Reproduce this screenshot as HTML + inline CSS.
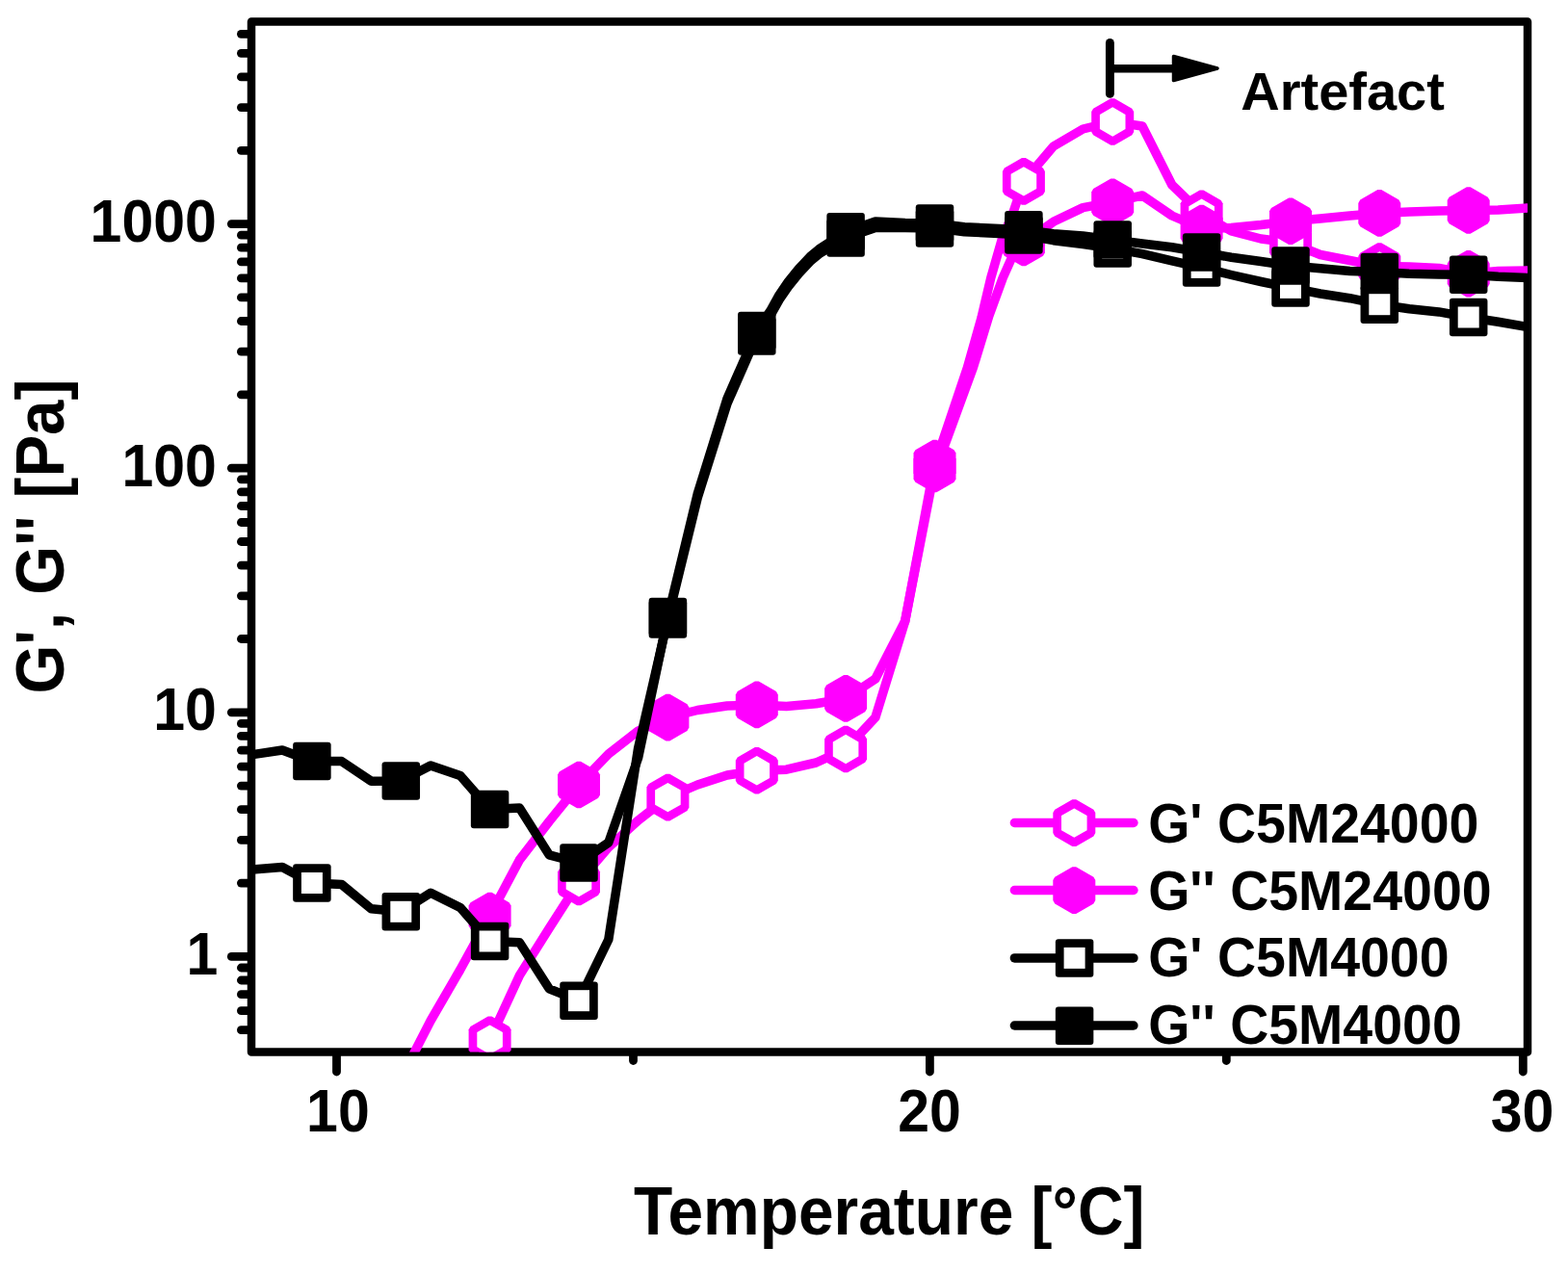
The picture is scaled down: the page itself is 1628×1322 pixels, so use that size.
<!DOCTYPE html>
<html><head><meta charset="utf-8"><title>G', G'' vs Temperature</title>
<style>html,body{margin:0;padding:0;background:#fff;overflow:hidden;}svg{display:block;}</style>
</head><body>
<svg width="1628" height="1322" viewBox="0 0 1628 1322">
<defs>
<clipPath id="pc"><rect x="261" y="22.5" width="1325" height="1070"/></clipPath>
<g id="hf"><polygon points="-1.91,-24.30 1.91,-24.30 20.09,-13.81 22.00,-10.49 22.00,10.49 20.09,13.81 1.91,24.30 -1.91,24.30 -20.09,13.81 -22.00,10.49 -22.00,-10.49 -20.09,-13.81" fill="#ff00ff"/></g>
<g id="ho"><polygon points="-1.91,-24.30 1.91,-24.30 20.09,-13.81 22.00,-10.49 22.00,10.49 20.09,13.81 1.91,24.30 -1.91,24.30 -20.09,13.81 -22.00,10.49 -22.00,-10.49 -20.09,-13.81" fill="#ff00ff"/><polygon points="0,-15.2 13.3,-7.6 13.3,7.6 0,15.2 -13.3,7.6 -13.3,-7.6" fill="#fff"/></g>
<g id="sf"><rect x="-19.75" y="-19.75" width="39.5" height="39.5" rx="3" fill="#000"/></g>
<g id="so"><rect x="-19.75" y="-19.75" width="39.5" height="39.5" rx="3" fill="#000"/><rect x="-11" y="-11" width="22" height="22" fill="#fff"/></g>
</defs>
<rect width="1628" height="1322" fill="#fff"/>
<g stroke="#000" stroke-width="8.8" stroke-linecap="round">
<line x1="250.4" y1="1069.7" x2="258" y2="1069.7"/>
<line x1="250.4" y1="1049.7" x2="258" y2="1049.7"/>
<line x1="250.4" y1="1032.7" x2="258" y2="1032.7"/>
<line x1="250.4" y1="1018.0" x2="258" y2="1018.0"/>
<line x1="250.4" y1="1005.0" x2="258" y2="1005.0"/>
<line x1="240.3" y1="993.4" x2="258" y2="993.4"/>
<line x1="250.4" y1="917.1" x2="258" y2="917.1"/>
<line x1="250.4" y1="872.4" x2="258" y2="872.4"/>
<line x1="250.4" y1="840.7" x2="258" y2="840.7"/>
<line x1="250.4" y1="816.1" x2="258" y2="816.1"/>
<line x1="250.4" y1="796.1" x2="258" y2="796.1"/>
<line x1="250.4" y1="779.1" x2="258" y2="779.1"/>
<line x1="250.4" y1="764.4" x2="258" y2="764.4"/>
<line x1="250.4" y1="751.4" x2="258" y2="751.4"/>
<line x1="240.3" y1="739.8" x2="258" y2="739.8"/>
<line x1="250.4" y1="663.5" x2="258" y2="663.5"/>
<line x1="250.4" y1="618.8" x2="258" y2="618.8"/>
<line x1="250.4" y1="587.1" x2="258" y2="587.1"/>
<line x1="250.4" y1="562.5" x2="258" y2="562.5"/>
<line x1="250.4" y1="542.5" x2="258" y2="542.5"/>
<line x1="250.4" y1="525.5" x2="258" y2="525.5"/>
<line x1="250.4" y1="510.8" x2="258" y2="510.8"/>
<line x1="250.4" y1="497.8" x2="258" y2="497.8"/>
<line x1="240.3" y1="486.2" x2="258" y2="486.2"/>
<line x1="250.4" y1="409.9" x2="258" y2="409.9"/>
<line x1="250.4" y1="365.2" x2="258" y2="365.2"/>
<line x1="250.4" y1="333.5" x2="258" y2="333.5"/>
<line x1="250.4" y1="308.9" x2="258" y2="308.9"/>
<line x1="250.4" y1="288.9" x2="258" y2="288.9"/>
<line x1="250.4" y1="271.9" x2="258" y2="271.9"/>
<line x1="250.4" y1="257.2" x2="258" y2="257.2"/>
<line x1="250.4" y1="244.2" x2="258" y2="244.2"/>
<line x1="240.3" y1="232.6" x2="258" y2="232.6"/>
<line x1="250.4" y1="156.3" x2="258" y2="156.3"/>
<line x1="250.4" y1="111.6" x2="258" y2="111.6"/>
<line x1="250.4" y1="79.9" x2="258" y2="79.9"/>
<line x1="250.4" y1="55.3" x2="258" y2="55.3"/>
<line x1="250.4" y1="35.3" x2="258" y2="35.3"/>
<line x1="349.5" y1="1096" x2="349.5" y2="1113"/>
<line x1="965.4" y1="1096" x2="965.4" y2="1113"/>
<line x1="1581.3" y1="1096" x2="1581.3" y2="1113"/>
<line x1="657.5" y1="1096" x2="657.5" y2="1101.5"/>
<line x1="1273.3" y1="1096" x2="1273.3" y2="1101.5"/>
</g>
<rect x="261" y="22.5" width="1325" height="1070" fill="none" stroke="#000" stroke-width="8.5" stroke-linejoin="round"/>
<g clip-path="url(#pc)">
<g fill="none" stroke-width="9.5" stroke-linejoin="round" stroke-linecap="round">
<polyline stroke="#ff00ff" points="477.8,1145.0 508.6,1079.7 539.4,1013.0 570.2,964.0 601.0,916.0 631.8,880.0 662.6,852.0 693.4,828.1 724.2,815.0 755.0,805.0 785.8,800.3 816.5,799.2 847.3,792.0 878.1,778.0 908.9,745.0 939.7,645.0 970.5,481.0 979.2,456.7 1004.4,381.7 1019.0,330.0 1028.8,288.5 1040.1,249.1 1052.6,218.7 1062.9,188.4 1093.7,152.0 1124.4,134.0 1155.2,126.5 1186.0,131.0 1216.8,192.0 1247.6,221.8 1278.4,240.0 1309.2,248.0 1340.0,252.0 1370.8,264.5 1401.5,270.5 1432.3,276.5 1463.1,277.0 1493.9,278.5 1524.7,284.2 1555.5,281.5 1586.3,281.0"/>
</g>
<use href="#ho" x="508.6" y="1079.7"/>
<use href="#ho" x="601.0" y="916.0"/>
<use href="#ho" x="693.4" y="828.1"/>
<use href="#ho" x="785.8" y="800.3"/>
<use href="#ho" x="878.1" y="778.0"/>
<use href="#ho" x="970.5" y="481.0"/>
<use href="#ho" x="1062.9" y="188.4"/>
<use href="#ho" x="1155.2" y="126.5"/>
<use href="#ho" x="1247.6" y="221.8"/>
<use href="#ho" x="1340.0" y="252.0"/>
<use href="#ho" x="1432.3" y="276.5"/>
<use href="#ho" x="1524.7" y="284.2"/>
<g fill="none" stroke-width="9.5" stroke-linejoin="round" stroke-linecap="round">
<polyline stroke="#ff00ff" points="416.3,1120.0 447.1,1060.0 477.8,1007.0 508.6,951.0 539.4,893.0 570.2,853.0 601.0,815.0 631.8,783.0 662.6,759.0 693.4,745.1 724.2,737.5 755.0,733.0 785.8,731.9 816.5,733.4 847.3,730.7 878.1,725.4 908.9,705.0 939.7,645.0 970.5,487.0 980.4,463.5 1010.4,381.7 1026.8,328.0 1041.2,288.5 1050.0,268.8 1062.9,252.0 1093.7,230.3 1124.4,215.6 1155.2,209.9 1186.0,203.0 1216.8,224.0 1247.6,237.1 1278.4,236.5 1309.2,233.5 1340.0,229.7 1370.8,227.0 1401.5,224.0 1432.3,221.4 1463.1,220.0 1493.9,219.0 1524.7,218.5 1555.5,218.0 1586.3,216.0"/>
</g>
<use href="#hf" x="416.3" y="1120.0"/>
<use href="#hf" x="508.6" y="951.0"/>
<use href="#hf" x="601.0" y="815.0"/>
<use href="#hf" x="693.4" y="745.1"/>
<use href="#hf" x="785.8" y="731.9"/>
<use href="#hf" x="878.1" y="725.4"/>
<use href="#hf" x="970.5" y="487.0"/>
<use href="#hf" x="1062.9" y="252.0"/>
<use href="#hf" x="1155.2" y="209.9"/>
<use href="#hf" x="1247.6" y="237.1"/>
<use href="#hf" x="1340.0" y="229.7"/>
<use href="#hf" x="1432.3" y="221.4"/>
<use href="#hf" x="1524.7" y="218.5"/>
<g fill="none" stroke-width="9.5" stroke-linejoin="round" stroke-linecap="round">
<polyline stroke="#000" points="231.5,903.0 262.3,903.0 293.1,900.5 323.9,917.0 354.7,918.5 385.5,943.8 416.3,946.8 447.1,927.2 477.8,942.4 508.6,977.5 539.4,978.7 570.2,1026.8 601.0,1039.2 631.8,975.7 662.6,777.0 693.4,643.0 724.2,517.0 755.0,419.0 785.8,348.9 799.9,327.7 809.0,311.4 818.3,297.8 829.2,284.2 842.1,270.6 850.3,263.8 878.1,246.9 908.9,236.4 939.7,236.4 970.5,236.9 1001.3,240.8 1032.1,242.3 1062.9,244.0 1093.7,249.7 1124.4,253.6 1155.2,258.0 1186.0,263.6 1216.8,270.8 1247.6,277.9 1278.4,285.5 1309.2,292.5 1340.0,298.9 1370.8,305.0 1401.5,309.7 1432.3,316.2 1463.1,320.8 1493.9,323.9 1524.7,329.5 1555.5,334.2 1586.3,339.5"/>
</g>
<use href="#so" x="323.9" y="917.0"/>
<use href="#so" x="416.3" y="946.8"/>
<use href="#so" x="508.6" y="977.5"/>
<use href="#so" x="601.0" y="1039.2"/>
<use href="#so" x="693.4" y="643.0"/>
<use href="#so" x="785.8" y="348.9"/>
<use href="#so" x="878.1" y="246.9"/>
<use href="#so" x="970.5" y="236.9"/>
<use href="#so" x="1062.9" y="244.0"/>
<use href="#so" x="1155.2" y="258.0"/>
<use href="#so" x="1247.6" y="277.9"/>
<use href="#so" x="1340.0" y="298.9"/>
<use href="#so" x="1432.3" y="316.2"/>
<use href="#so" x="1524.7" y="329.5"/>
<g fill="none" stroke-width="9.5" stroke-linejoin="round" stroke-linecap="round">
<polyline stroke="#000" points="231.5,783.6 262.3,783.6 293.1,779.0 323.9,790.5 354.7,790.6 385.5,811.3 416.3,810.9 447.1,795.0 477.8,805.4 508.6,840.5 539.4,839.0 570.2,887.8 601.0,896.0 631.8,875.0 662.6,787.0 693.4,640.5 724.2,513.0 755.0,414.0 785.8,343.6 799.9,322.7 809.0,306.4 818.3,292.8 829.2,279.2 842.1,265.6 850.3,258.8 878.1,240.8 908.9,229.9 939.7,231.4 970.5,231.9 1001.3,235.8 1032.1,237.3 1062.9,238.8 1093.7,242.8 1124.4,245.0 1155.2,249.0 1186.0,253.0 1216.8,256.8 1247.6,262.0 1278.4,267.2 1309.2,271.5 1340.0,276.0 1370.8,278.8 1401.5,281.4 1432.3,282.6 1463.1,284.2 1493.9,285.0 1524.7,285.3 1555.5,287.3 1586.3,288.6"/>
</g>
<use href="#sf" x="323.9" y="790.5"/>
<use href="#sf" x="416.3" y="810.9"/>
<use href="#sf" x="508.6" y="840.5"/>
<use href="#sf" x="601.0" y="896.0"/>
<use href="#sf" x="693.4" y="640.5"/>
<use href="#sf" x="785.8" y="343.6"/>
<use href="#sf" x="878.1" y="240.8"/>
<use href="#sf" x="970.5" y="231.9"/>
<use href="#sf" x="1062.9" y="238.8"/>
<use href="#sf" x="1155.2" y="249.0"/>
<use href="#sf" x="1247.6" y="262.0"/>
<use href="#sf" x="1340.0" y="276.0"/>
<use href="#sf" x="1432.3" y="282.6"/>
<use href="#sf" x="1524.7" y="285.3"/>
</g>
<g font-family="Liberation Sans, Arial, sans-serif" font-weight="bold" fill="#000">
<g font-size="59">
<text transform="translate(224.8,251) scale(1,1.07)" text-anchor="end">1000</text>
<text transform="translate(224.8,505) scale(1,1.07)" text-anchor="end">100</text>
<text transform="translate(224.8,758) scale(1,1.07)" text-anchor="end">10</text>
<text transform="translate(210,1012) scale(1,1.07)" text-anchor="middle">1</text>
<text transform="translate(350.9,1175) scale(1,1.07)" text-anchor="middle">10</text>
<text transform="translate(965.1,1175) scale(1,1.07)" text-anchor="middle">20</text>
<text transform="translate(1580.6,1175) scale(1,1.07)" text-anchor="middle">30</text>
</g>
<text transform="translate(658.1,1282) scale(1,1.055)" font-size="65.9">Temperature [°C]</text>
<text transform="translate(66,720.6) rotate(-90) scale(1,1.073)" font-size="65.5">G&#39;, G&#39;&#39; [Pa]</text>
<g font-size="55.5">
<text transform="translate(1192.2,874.7) scale(1,1.03)">G&#39; C5M24000</text>
<text transform="translate(1192.2,944.6) scale(1,1.03)">G&#39;&#39; C5M24000</text>
<text transform="translate(1192.2,1014.3) scale(1,1.03)">G&#39; C5M4000</text>
<text transform="translate(1192.2,1083.8) scale(1,1.03)">G&#39;&#39; C5M4000</text>
</g>
<text transform="translate(1288.3,113.9)" font-size="56">Artefact</text>
</g>
<g stroke-width="9.5" stroke-linecap="round">
<line x1="1053.4" y1="854.5" x2="1176.9" y2="854.5" stroke="#ff00ff"/>
<line x1="1053.4" y1="924.5" x2="1176.9" y2="924.5" stroke="#ff00ff"/>
<line x1="1053.4" y1="994.9" x2="1176.9" y2="994.9" stroke="#000"/>
<line x1="1053.4" y1="1065" x2="1176.9" y2="1065" stroke="#000"/>
</g>
<use href="#ho" x="1115.3" y="854.6"/>
<use href="#hf" x="1115.3" y="924.6"/>
<use href="#so" x="1115.6" y="994.9"/>
<use href="#sf" x="1115.6" y="1065.2"/>
<g stroke="#000" stroke-linecap="round">
<line x1="1152.4" y1="44.5" x2="1152.4" y2="97.4" stroke-width="8.9"/>
<line x1="1152.4" y1="71.3" x2="1222" y2="71.3" stroke-width="8.4"/>
<polygon points="1218.5,58.5 1264,71 1218.5,83.5" fill="#000" stroke-width="3.5" stroke-linejoin="round"/>
</g>
</svg>
</body></html>
